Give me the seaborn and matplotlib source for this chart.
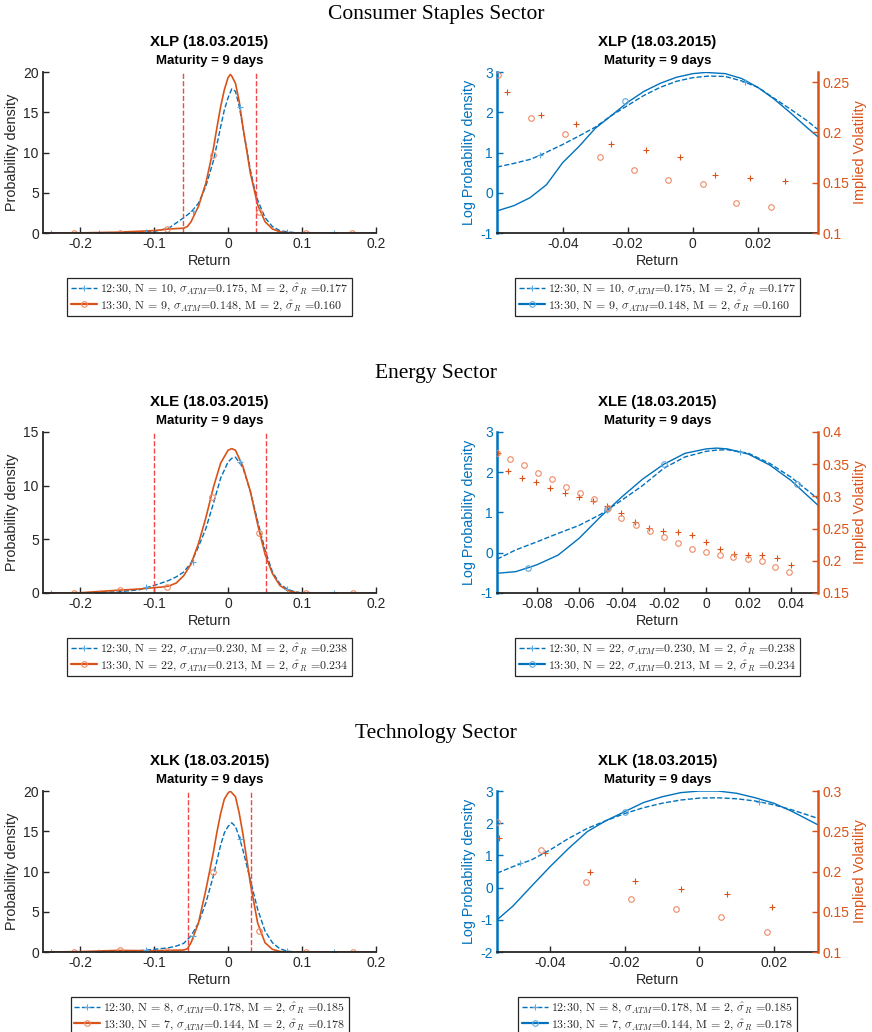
import matplotlib
matplotlib.use("Agg")
import matplotlib.pyplot as plt
import seaborn as sns
from matplotlib.lines import Line2D
from matplotlib.ticker import FuncFormatter

# ---------------- data ----------------
# Consumer Staples (XLP) -- probability density
XLP_PDF_1230_X = [-0.25, -0.20, -0.15, -0.12, -0.10, -0.08, -0.06, -0.05, -0.04, -0.03, -0.02, -0.015,
                  -0.01, -0.005, 0.0, 0.005, 0.01, 0.015, 0.02, 0.025, 0.03, 0.035, 0.04, 0.05, 0.06,
                  0.07, 0.08, 0.09, 0.10, 0.15, 0.20]
XLP_PDF_1230_Y = [0, 0, 0.02, 0.08, 0.2, 0.6, 1.9, 2.6, 3.7, 5.8, 8.9, 11.0,
                  13.2, 15.3, 16.8, 17.9, 17.6, 15.8, 13.2, 10.5, 7.9, 5.8, 4.1, 1.9, 0.8,
                  0.3, 0.15, 0.05, 0, 0, 0]
XLP_PDF_1330_X = [-0.25, -0.20, -0.15, -0.10, -0.08, -0.06, -0.055, -0.05, -0.04, -0.03, -0.02, -0.015,
                  -0.01, -0.005, 0.0, 0.003, 0.005, 0.01, 0.015, 0.02, 0.025, 0.03, 0.04, 0.05, 0.06,
                  0.07, 0.08, 0.09, 0.15, 0.20]
XLP_PDF_1330_Y = [0, 0.02, 0.1, 0.3, 0.5, 0.6, 0.8, 1.4, 3.3, 6.2, 10.4, 13.1,
                  15.7, 17.8, 19.3, 19.7, 19.5, 18.6, 16.4, 13.2, 10.4, 7.5, 3.5, 1.4, 0.5,
                  0.15, 0.05, 0, 0, 0]
XLP_MK_1230_X = [-0.239, -0.175, -0.111, -0.048, 0.016, 0.080, 0.143]
XLP_MK_1230_Y = [0, 0, 0.1, 2.7, 15.7, 0.15, 0]
XLP_MK_1330_X = [-0.208, -0.146, -0.083, -0.021, 0.042, 0.105, 0.168]
XLP_MK_1330_Y = [0, 0.05, 0.55, 9.7, 2.6, 0, 0]
XLP_BOUNDS = [-0.0605, 0.0377]

# XLP -- log density and implied volatility
XLP_LOG_1230_X = [-0.0602, -0.055, -0.05, -0.047, -0.04, -0.035, -0.03, -0.025, -0.02, -0.015, -0.01,
                  -0.005, 0.0, 0.005, 0.01, 0.015, 0.02, 0.025, 0.03, 0.035, 0.0385]
XLP_LOG_1230_Y = [0.64, 0.73, 0.83, 0.93, 1.20, 1.41, 1.63, 1.92, 2.17, 2.42, 2.62,
                  2.77, 2.86, 2.90, 2.89, 2.78, 2.62, 2.35, 2.08, 1.80, 1.57]
XLP_LOG_1330_X = [-0.0602, -0.055, -0.05, -0.045, -0.04, -0.035, -0.03, -0.025, -0.02, -0.015, -0.01,
                  -0.005, 0.0, 0.004, 0.01, 0.015, 0.02, 0.025, 0.03, 0.035, 0.0385]
XLP_LOG_1330_Y = [-0.45, -0.32, -0.12, 0.2, 0.75, 1.15, 1.6, 1.92, 2.25, 2.52, 2.72,
                  2.87, 2.96, 2.99, 2.96, 2.84, 2.62, 2.33, 1.99, 1.63, 1.39]
XLP_LMK_1230_X = [-0.047, 0.016]
XLP_LMK_1230_Y = [0.93, 2.76]
XLP_LMK_1330_X = [-0.0207]
XLP_LMK_1330_Y = [2.29]
XLP_IV_1230_X = [-0.0572, -0.0466, -0.0359, -0.0251, -0.0145, -0.0038, 0.0069, 0.0176, 0.0283]
XLP_IV_1230_Y = [0.240, 0.2174, 0.2082, 0.1888, 0.1829, 0.1757, 0.1576, 0.1543, 0.1516]
XLP_IV_1330_X = [-0.0600, -0.0499, -0.0393, -0.0286, -0.0182, -0.0076, 0.0030, 0.0133, 0.0240]
XLP_IV_1330_Y = [0.257, 0.2148, 0.1984, 0.1757, 0.1622, 0.1526, 0.1484, 0.1299, 0.1263]

# Energy (XLE) -- probability density
XLE_PDF_1230_X = [-0.25, -0.20, -0.15, -0.12, -0.10, -0.09, -0.08, -0.07, -0.06, -0.05, -0.04, -0.03,
                  -0.02, -0.01, 0.0, 0.005, 0.01, 0.02, 0.03, 0.04, 0.05, 0.06, 0.07, 0.08, 0.09,
                  0.10, 0.15, 0.20]
XLE_PDF_1230_Y = [0, 0, 0.1, 0.3, 0.7, 0.93, 1.17, 1.5, 1.95, 2.8, 4.3, 6.0,
                  8.3, 10.7, 12.2, 12.55, 12.65, 11.7, 9.5, 6.7, 4.0, 1.95, 0.86, 0.34, 0.12,
                  0, 0, 0]
XLE_PDF_1330_X = [-0.25, -0.20, -0.15, -0.12, -0.10, -0.09, -0.08, -0.07, -0.06, -0.05, -0.04, -0.03,
                  -0.02, -0.01, 0.0, 0.005, 0.01, 0.02, 0.03, 0.04, 0.05, 0.06, 0.07, 0.08, 0.09,
                  0.10, 0.15, 0.20]
XLE_PDF_1330_Y = [0, 0.02, 0.25, 0.37, 0.5, 0.55, 0.65, 0.93, 1.6, 2.7, 4.6, 7.0,
                  9.8, 12.1, 13.3, 13.45, 13.3, 11.8, 9.5, 6.4, 3.6, 1.8, 0.7, 0.25, 0.06,
                  0, 0, 0]
XLE_MK_1230_X = [-0.239, -0.175, -0.111, -0.048, 0.016, 0.080, 0.143]
XLE_MK_1230_Y = [0, 0, 0.55, 2.9, 12.2, 0.34, 0]
XLE_MK_1330_X = [-0.208, -0.146, -0.083, -0.022, 0.042, 0.105, 0.169]
XLE_MK_1330_Y = [0, 0.25, 0.6, 8.9, 5.55, 0, 0]
XLE_BOUNDS = [-0.1005, 0.0518]

# XLE -- log density and implied volatility
XLE_LOG_1230_X = [-0.0988, -0.09, -0.08, -0.07, -0.06, -0.05, -0.04, -0.03, -0.02, -0.01, 0.0,
                  0.005, 0.01, 0.02, 0.03, 0.04, 0.0528]
XLE_LOG_1230_Y = [-0.16, 0.07, 0.27, 0.48, 0.68, 0.95, 1.30, 1.67, 2.10, 2.38, 2.52,
                  2.55, 2.56, 2.47, 2.22, 1.88, 1.34]
XLE_LOG_1330_X = [-0.0988, -0.09, -0.084, -0.08, -0.07, -0.06, -0.05, -0.04, -0.03, -0.02, -0.01,
                  0.0, 0.005, 0.01, 0.02, 0.03, 0.04, 0.0528]
XLE_LOG_1330_Y = [-0.51, -0.47, -0.37, -0.30, -0.06, 0.36, 0.89, 1.38, 1.83, 2.20, 2.47,
                  2.58, 2.60, 2.58, 2.45, 2.18, 1.80, 1.18]
XLE_LMK_1230_X = [-0.047, 0.016]
XLE_LMK_1230_Y = [1.05, 2.51]
XLE_LMK_1330_X = [-0.084, -0.047, -0.020, 0.043]
XLE_LMK_1330_Y = [-0.37, 1.08, 2.20, 1.71]
XLE_IV_1230_X = [-0.0985, -0.0934, -0.0868, -0.0802, -0.0736, -0.0669, -0.0603, -0.0537, -0.0470,
                 -0.0404, -0.0335, -0.0268, -0.0202, -0.0133, -0.0066, 0.0, 0.0066, 0.0133, 0.0199,
                 0.0265, 0.0335, 0.0401]
XLE_IV_1230_Y = [0.3667, 0.340, 0.3286, 0.3230, 0.3133, 0.3050, 0.2989, 0.2922, 0.2850,
                 0.2742, 0.2599, 0.2506, 0.2455, 0.2444, 0.2393, 0.2296, 0.2178, 0.2106, 0.2095,
                 0.2085, 0.2039, 0.1936]
XLE_IV_1330_X = [-0.0988, -0.0928, -0.0862, -0.0796, -0.0729, -0.0663, -0.0597, -0.0530, -0.0464,
                 -0.0401, -0.0333, -0.0267, -0.0200, -0.0134, -0.0069, -0.0003, 0.0063, 0.0129,
                 0.0196, 0.0262, 0.0327, 0.0393]
XLE_IV_1330_Y = [0.3677, 0.3584, 0.3481, 0.3369, 0.3271, 0.3153, 0.3060, 0.2958, 0.2825,
                 0.2671, 0.2548, 0.2455, 0.2362, 0.2270, 0.2188, 0.2132, 0.2095, 0.2054,
                 0.2024, 0.1993, 0.1911, 0.1829]

# Technology (XLK) -- probability density
XLK_PDF_1230_X = [-0.25, -0.20, -0.14, -0.12, -0.10, -0.08, -0.07, -0.06, -0.05, -0.04, -0.03, -0.02,
                  -0.01, -0.005, 0.0, 0.005, 0.01, 0.015, 0.02, 0.03, 0.04, 0.05, 0.06, 0.07, 0.08,
                  0.09, 0.15, 0.20]
XLK_PDF_1230_Y = [0, 0, 0.05, 0.16, 0.33, 0.53, 0.74, 1.07, 2.0, 3.6, 6.1, 9.4,
                  13.3, 14.8, 15.6, 16.05, 15.6, 14.3, 12.7, 9.0, 5.3, 2.6, 1.15, 0.4, 0.12,
                  0, 0, 0]
XLK_PDF_1330_X = [-0.25, -0.20, -0.15, -0.10, -0.06, -0.055, -0.05, -0.04, -0.03, -0.02, -0.015,
                  -0.01, -0.005, 0.0, 0.003, 0.01, 0.015, 0.02, 0.025, 0.03, 0.04, 0.05, 0.06,
                  0.07, 0.08, 0.15, 0.20]
XLK_PDF_1330_Y = [0, 0.05, 0.2, 0.16, 0.25, 0.4, 1.15, 3.6, 7.7, 12.3, 14.9,
                  17.2, 19.0, 19.75, 20.0, 19.3, 17.3, 14.7, 11.7, 8.6, 3.6, 1.15, 0.33,
                  0.08, 0, 0, 0]
XLK_MK_1230_X = [-0.239, -0.175, -0.111, -0.048, 0.016, 0.080, 0.143]
XLK_MK_1230_Y = [0, 0, 0.2, 2.0, 14.1, 0.12, 0]
XLK_MK_1330_X = [-0.208, -0.146, -0.083, -0.021, 0.042, 0.105, 0.169]
XLK_MK_1330_Y = [0, 0.2, 0.12, 10.0, 2.6, 0, 0]
XLK_BOUNDS = [-0.0545, 0.0305]

# XLK -- log density and implied volatility
XLK_LOG_1230_X = [-0.0542, -0.05, -0.045, -0.04, -0.035, -0.03, -0.025, -0.02, -0.015, -0.01, -0.005,
                  0.0, 0.005, 0.01, 0.015, 0.02, 0.025, 0.0318]
XLK_LOG_1230_Y = [0.45, 0.65, 0.86, 1.17, 1.53, 1.84, 2.08, 2.30, 2.48, 2.62, 2.72,
                  2.78, 2.79, 2.76, 2.69, 2.57, 2.41, 2.15]
XLK_LOG_1330_X = [-0.0542, -0.05, -0.045, -0.04, -0.035, -0.03, -0.025, -0.02, -0.015, -0.01, -0.005,
                  0.0, 0.005, 0.01, 0.015, 0.02, 0.025, 0.0318]
XLK_LOG_1330_Y = [-1.0, -0.58, 0.04, 0.65, 1.22, 1.74, 2.08, 2.36, 2.64, 2.82, 2.95,
                  3.0, 3.0, 2.93, 2.79, 2.62, 2.36, 1.95]
XLK_LMK_1230_X = [-0.048, 0.016]
XLK_LMK_1230_Y = [0.76, 2.67]
XLK_LMK_1330_X = [-0.020]
XLK_LMK_1330_Y = [2.34]
XLK_IV_1230_X = [-0.0538, -0.0414, -0.0293, -0.0171, -0.0048, 0.0075, 0.0196]
XLK_IV_1230_Y = [0.2413, 0.2227, 0.1988, 0.1884, 0.1781, 0.1723, 0.1562]
XLK_IV_1330_X = [-0.0542, -0.0424, -0.0304, -0.0182, -0.0062, 0.0059, 0.0181]
XLK_IV_1330_Y = [0.2616, 0.2269, 0.1864, 0.1661, 0.1529, 0.1434, 0.1248]

SECTORS = ["Consumer Staples Sector", "Energy Sector", "Technology Sector"]
TICKERS = ["XLP", "XLE", "XLK"]
DATE = "18.03.2015"
MATURITY = "Maturity = 9 days"
LEGENDS = {
    "XLP": [r"12:30, N = 10, $\sigma_{ATM}$=0.175, M = 2, $\hat{\sigma}_R$ =0.177",
            r"13:30, N = 9, $\sigma_{ATM}$=0.148, M = 2, $\hat{\sigma}_R$ =0.160"],
    "XLE": [r"12:30, N = 22, $\sigma_{ATM}$=0.230, M = 2, $\hat{\sigma}_R$ =0.238",
            r"13:30, N = 22, $\sigma_{ATM}$=0.213, M = 2, $\hat{\sigma}_R$ =0.234"],
    "XLK": [r"12:30, N = 8, $\sigma_{ATM}$=0.178, M = 2, $\hat{\sigma}_R$ =0.185",
            r"13:30, N = 7, $\sigma_{ATM}$=0.144, M = 2, $\hat{\sigma}_R$ =0.178"],
}
PDF_YMAX = {"XLP": 20, "XLE": 15, "XLK": 20}
LOG_YLIM = {"XLP": (-1, 3), "XLE": (-1, 3), "XLK": (-2, 3)}
IV_YLIM = {"XLP": (0.1, 0.26), "XLE": (0.15, 0.4), "XLK": (0.1, 0.3)}
IV_TICKS = {"XLP": [0.1, 0.15, 0.2, 0.25], "XLE": [0.15, 0.2, 0.25, 0.3, 0.35, 0.4],
            "XLK": [0.1, 0.15, 0.2, 0.25, 0.3]}
LOG_XTICKS = {"XLP": [-0.04, -0.02, 0, 0.02], "XLE": [-0.08, -0.06, -0.04, -0.02, 0, 0.02, 0.04],
              "XLK": [-0.04, -0.02, 0, 0.02]}

DATA = {
    "XLP": dict(pa=(XLP_PDF_1230_X, XLP_PDF_1230_Y), pb=(XLP_PDF_1330_X, XLP_PDF_1330_Y),
                ma=(XLP_MK_1230_X, XLP_MK_1230_Y), mb=(XLP_MK_1330_X, XLP_MK_1330_Y), bounds=XLP_BOUNDS,
                la=(XLP_LOG_1230_X, XLP_LOG_1230_Y), lb=(XLP_LOG_1330_X, XLP_LOG_1330_Y),
                lma=(XLP_LMK_1230_X, XLP_LMK_1230_Y), lmb=(XLP_LMK_1330_X, XLP_LMK_1330_Y),
                iva=(XLP_IV_1230_X, XLP_IV_1230_Y), ivb=(XLP_IV_1330_X, XLP_IV_1330_Y)),
    "XLE": dict(pa=(XLE_PDF_1230_X, XLE_PDF_1230_Y), pb=(XLE_PDF_1330_X, XLE_PDF_1330_Y),
                ma=(XLE_MK_1230_X, XLE_MK_1230_Y), mb=(XLE_MK_1330_X, XLE_MK_1330_Y), bounds=XLE_BOUNDS,
                la=(XLE_LOG_1230_X, XLE_LOG_1230_Y), lb=(XLE_LOG_1330_X, XLE_LOG_1330_Y),
                lma=(XLE_LMK_1230_X, XLE_LMK_1230_Y), lmb=(XLE_LMK_1330_X, XLE_LMK_1330_Y),
                iva=(XLE_IV_1230_X, XLE_IV_1230_Y), ivb=(XLE_IV_1330_X, XLE_IV_1330_Y)),
    "XLK": dict(pa=(XLK_PDF_1230_X, XLK_PDF_1230_Y), pb=(XLK_PDF_1330_X, XLK_PDF_1330_Y),
                ma=(XLK_MK_1230_X, XLK_MK_1230_Y), mb=(XLK_MK_1330_X, XLK_MK_1330_Y), bounds=XLK_BOUNDS,
                la=(XLK_LOG_1230_X, XLK_LOG_1230_Y), lb=(XLK_LOG_1330_X, XLK_LOG_1330_Y),
                lma=(XLK_LMK_1230_X, XLK_LMK_1230_Y), lmb=(XLK_LMK_1330_X, XLK_LMK_1330_Y),
                iva=(XLK_IV_1230_X, XLK_IV_1230_Y), ivb=(XLK_IV_1330_X, XLK_IV_1330_Y)),
}

# ---------------- style ----------------
sns.set_theme(style="ticks")
plt.rcParams["font.family"] = ["Liberation Sans", "DejaVu Sans"]
plt.rcParams["mathtext.fontset"] = "cm"
plt.rcParams["axes.unicode_minus"] = False
plt.rcParams["xtick.direction"] = "in"
plt.rcParams["ytick.direction"] = "in"

BLUE = "#0072BD"
ORANGE = "#D95319"
BLUE_MK = "#5FA8DC"
ORANGE_MK = "#EE8A66"
RED = "#F04848"
DARK = "#262626"
TICK_FS = 10

fmt = FuncFormatter(lambda v, p: "%g" % round(v, 6))

fig = plt.figure(figsize=(8.72, 10.32), dpi=100)

ROW_BOTTOMS = [0.7742, 0.4254, 0.0775]
ROW_H = 0.156
SECTOR_Y = [0.9855, 0.6376, 0.2888]
LEFT_X, LEFT_W = 0.0493, 0.382
RIGHT_X, RIGHT_W = 0.570, 0.368


def line(ax, xy, color, ls, lw):
    sns.lineplot(x=xy[0], y=xy[1], ax=ax, color=color, linestyle=ls, linewidth=lw,
                 estimator=None, sort=False)


def markers(ax, xy, color, marker, ms):
    sns.lineplot(x=xy[0], y=xy[1], ax=ax, color=color, linestyle="none", marker=marker,
                 markersize=ms, markerfacecolor="none", markeredgecolor=color,
                 markeredgewidth=0.8, estimator=None, sort=False)


def titles(ax, tk):
    ax.text(0.5, 1.186, f"{tk} ({DATE})", transform=ax.transAxes, ha="center", va="center",
            fontsize=10.8, fontweight="bold", color="black")
    ax.text(0.5, 1.068, MATURITY, transform=ax.transAxes, ha="center", va="center",
            fontsize=9.5, fontweight="bold", color="black")


def legend(ax, tk, right):
    h1 = Line2D([], [], color=BLUE, ls="--", lw=1.0, marker="+", ms=5, mew=0.8,
                mec=BLUE_MK)
    if right:
        h2 = Line2D([], [], color=BLUE, ls="-", lw=1.6, marker="o", ms=4, mfc="none", mew=0.8,
                    mec=BLUE_MK)
    else:
        h2 = Line2D([], [], color=ORANGE, ls="-", lw=1.6, marker="o", ms=4, mfc="none", mew=0.8,
                    mec=ORANGE_MK)
    leg = ax.legend([h1, h2], LEGENDS[tk], loc="upper center", bbox_to_anchor=(0.5, -0.28),
                    frameon=True, fancybox=False, framealpha=1, edgecolor=DARK,
                    prop={"family": "cmr10", "size": 8.6}, handlelength=2.2, handletextpad=0.2,
                    labelspacing=0.15, borderpad=0.3, borderaxespad=0)
    leg.get_frame().set_linewidth(0.9)


for r, tk in enumerate(TICKERS):
    d = DATA[tk]
    fig.text(0.5, SECTOR_Y[r], SECTORS[r], ha="center", va="center", fontsize=15.5,
             family=["Liberation Serif", "DejaVu Serif"], color="black")

    # ---- left: probability density ----
    ax = fig.add_axes([LEFT_X, ROW_BOTTOMS[r], LEFT_W, ROW_H])
    line(ax, d["pa"], BLUE, "--", 1.0)
    line(ax, d["pb"], ORANGE, "-", 1.2)
    markers(ax, d["ma"], BLUE_MK, "+", 5)
    markers(ax, d["mb"], ORANGE_MK, "o", 4)
    for v in d["bounds"]:
        ax.axvline(v, color=RED, ls="--", lw=1.0)
    ax.set_xlim(-0.25, 0.2)
    ax.set_ylim(0, PDF_YMAX[tk])
    ax.set_xticks([-0.2, -0.1, 0, 0.1, 0.2])
    ax.set_yticks(list(range(0, PDF_YMAX[tk] + 1, 5)))
    ax.xaxis.set_major_formatter(fmt)
    ax.yaxis.set_major_formatter(fmt)
    ax.set_xlabel("Return", fontsize=10.4, color=DARK, labelpad=2)
    ax.set_ylabel("Probability density", fontsize=10.4, color=DARK, labelpad=3)
    for s in ["top", "right"]:
        ax.spines[s].set_visible(False)
    for s in ["left", "bottom"]:
        ax.spines[s].set_linewidth(1.3)
        ax.spines[s].set_color(DARK)
    ax.tick_params(labelsize=TICK_FS, colors=DARK, length=4, width=1.0, pad=3)
    titles(ax, tk)
    legend(ax, tk, False)

    # ---- right: log density + implied volatility ----
    ax = fig.add_axes([RIGHT_X, ROW_BOTTOMS[r], RIGHT_W, ROW_H])
    ax2 = ax.twinx()
    line(ax, d["la"], BLUE, "--", 1.0)
    line(ax, d["lb"], BLUE, "-", 1.0)
    markers(ax, d["lma"], BLUE_MK, "+", 5)
    markers(ax, d["lmb"], BLUE_MK, "o", 4)
    markers(ax2, d["iva"], ORANGE, "+", 5)
    markers(ax2, d["ivb"], ORANGE_MK, "o", 4)
    xl = (d["la"][0][0], d["la"][0][-1])
    ax.set_xlim(*xl)
    ax.set_ylim(*LOG_YLIM[tk])
    ax.set_yticks(list(range(LOG_YLIM[tk][0], LOG_YLIM[tk][1] + 1)))
    ax.set_xticks(LOG_XTICKS[tk])
    ax2.set_ylim(*IV_YLIM[tk])
    ax2.set_yticks(IV_TICKS[tk])
    for a in (ax, ax2):
        a.xaxis.set_major_formatter(fmt)
        a.yaxis.set_major_formatter(fmt)
        a.spines["top"].set_visible(False)
    ax.spines["right"].set_visible(False)
    ax2.spines["left"].set_visible(False)
    ax2.spines["bottom"].set_visible(False)
    ax.spines["left"].set_color(BLUE)
    ax.spines["left"].set_linewidth(1.8)
    ax.spines["bottom"].set_color(DARK)
    ax.spines["bottom"].set_linewidth(1.3)
    ax2.spines["right"].set_color(ORANGE)
    ax2.spines["right"].set_linewidth(1.8)
    ax.tick_params(axis="x", labelsize=TICK_FS, colors=DARK, length=4, width=1.0, pad=3)
    ax.tick_params(axis="y", labelsize=TICK_FS, colors=BLUE, length=4, width=1.0, pad=3)
    ax2.tick_params(axis="y", labelsize=TICK_FS, colors=ORANGE, length=4, width=1.0, pad=3)
    ax.set_xlabel("Return", fontsize=10.4, color=DARK, labelpad=2)
    ax.set_ylabel("Log Probability density", fontsize=10.4, color=BLUE, labelpad=3)
    ax2.set_ylabel("Implied Volatility", fontsize=10.4, color=ORANGE, labelpad=3)
    titles(ax, tk)
    legend(ax, tk, True)

fig.savefig("out.png", dpi=100)
